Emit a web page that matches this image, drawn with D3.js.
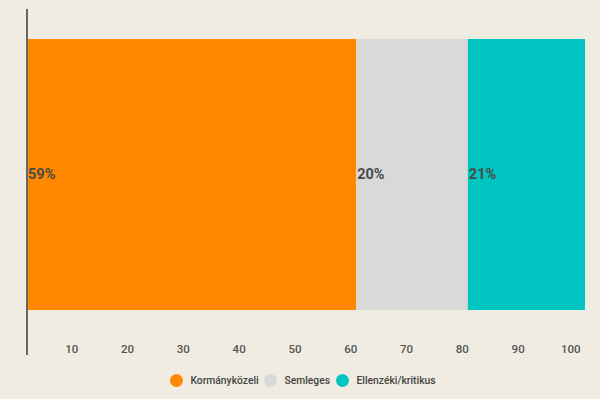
<!DOCTYPE html>
<meta charset="utf-8">
<style>
  body { margin: 0; background: #f0ece1; }
  svg { display: block; font-family: Roboto, sans-serif; }
</style>
<svg width="600" height="399"></svg>
<script src="https://cdn.jsdelivr.net/npm/d3@7"></script>
<script>

var categories = ["Kormányközeli", "Semleges", "Ellenzéki/kritikus"],
    values = [59, 20, 21],
    colors = ["#ff8800", "#d9d9d9", "#00c5c0"],
    ticks = [10, 20, 30, 40, 50, 60, 70, 80, 90, 100];

var svg = d3.select("svg"),
    margin = {top: 39, right: 15, bottom: 89, left: 27},
    width = +svg.attr("width") - margin.left - margin.right,
    height = +svg.attr("height") - margin.top - margin.bottom;

var x = d3.scaleLinear().domain([0, 100]).range([0, width]);

var g = svg.append("g")
    .attr("transform", "translate(" + margin.left + "," + margin.top + ")");

// stack the shares left to right
var start = 0;
var stacked = values.map(function (v, i) {
  var d = {name: categories[i], value: v, x0: start, x1: start + v, color: colors[i]};
  start += v;
  return d;
});

g.selectAll(".bar")
    .data(stacked)
    .enter().append("rect")
      .attr("class", "bar")
      .attr("x", function (d) { return x(d.x0); })
      .attr("width", function (d) { return x(d.x1) - x(d.x0); })
      .attr("y", 0)
      .attr("height", height)
      .attr("fill", function (d) { return d.color; });

g.selectAll(".val")
    .data(stacked)
    .enter().append("text")
      .attr("class", "val")
      .attr("x", function (d) { return x(d.x0) + 1; })
      .attr("y", height / 2 - 0.5)
      .attr("dy", "0.35em")
      .style("font-size", "14.5px")
      .style("font-weight", "bold")
      .attr("fill", "#4a4a4a")
      .text(function (d) { return d.value + "%"; });

// x axis: labels only, right-aligned just left of each tick
var axis = g.append("g")
    .attr("transform", "translate(0," + (height + 39) + ")")
    .call(d3.axisBottom(x).tickValues(ticks).tickSize(0).tickPadding(0));
axis.select(".domain").remove();
axis.selectAll("text")
    .attr("text-anchor", "end")
    .attr("dx", -5)
    .attr("dy", "0.35em")
    .attr("y", 0)
    .style("font-family", "Roboto, sans-serif")
    .style("font-size", "11.5px")
    .style("font-weight", "500")
    .attr("fill", "#555");

// vertical axis line
g.append("line")
    .attr("x1", 0).attr("x2", 0)
    .attr("y1", -30).attr("y2", height + 45)
    .attr("stroke", "#666")
    .attr("stroke-width", 2);

// legend
var legendX = [176.5, 270.5, 342.5];
var legend = svg.append("g")
    .attr("transform", "translate(0,380.5)");

var item = legend.selectAll(".item")
    .data(stacked)
    .enter().append("g")
      .attr("class", "item")
      .attr("transform", function (d, i) { return "translate(" + legendX[i] + ",0)"; });

item.append("circle")
    .attr("r", 6.5)
    .attr("fill", function (d) { return d.color; });

item.append("text")
    .attr("x", 14)
    .attr("dy", "0.35em")
    .style("font-size", "10.3px")
    .style("font-weight", "500")
    .attr("fill", "#444")
    .text(function (d) { return d.name; });

</script>
